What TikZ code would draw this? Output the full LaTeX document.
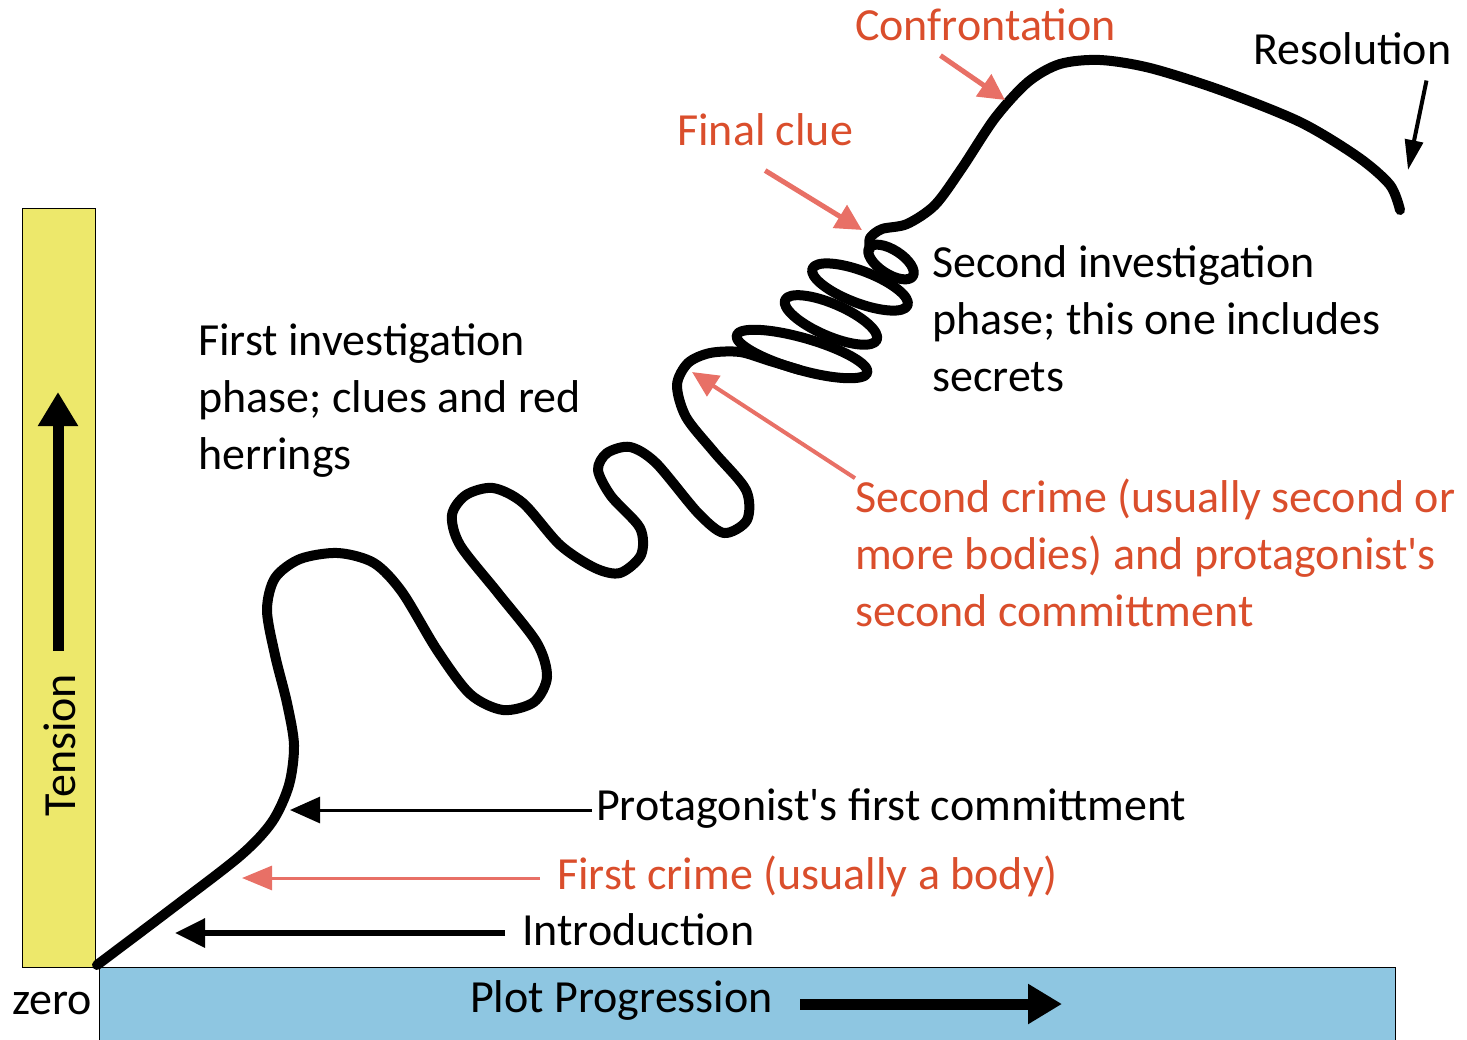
\documentclass[tikz,border=0pt]{standalone}
\usepackage{fontspec}
\setmainfont{Carlito}
\usetikzlibrary{arrows.meta,positioning}
\definecolor{tensionyellow}{RGB}{237,232,107}
\definecolor{plotblue}{RGB}{142,198,225}
\definecolor{cluered}{RGB}{218,78,44}
\definecolor{salmon}{RGB}{232,112,102}
\tikzstyle{plotline} = [line width=10pt, line cap=round, line join=round]
\tikzset{
    txt/.style={
        inner sep=0pt, anchor=base west, align=left,
        font=\fontsize{46}{57}\selectfont
    },
    redtxt/.style={
        txt, text=cluered
    },
    axisarrow/.style={
        line width=11pt,
        -{Triangle[length=34pt,width=38pt]}
    },
    blackarrow/.style={
        line width=6pt,
        -{Triangle[length=30pt,width=28pt]}
    },
    thinarrow/.style={
        line width=3pt,
        -{Triangle[length=30pt,width=26pt]}
    },
    pinkarrow/.style={
        salmon, line width=3pt,
        -{Triangle[length=30pt,width=24pt]}
    },
    pinkbig/.style={
        salmon, line width=5pt,
        -{Triangle[length=26pt,width=26pt]}
    },
    pinkmid/.style={
        salmon, line width=4pt,
        -{Triangle[length=26pt,width=24pt]}
    },
    resolvearrow/.style={
        line width=4pt,
        -{Triangle[length=30pt,width=18pt]}
    }
}

\begin{document}
\begin{tikzpicture}[x=1pt,y=-1pt]
    \useasboundingbox (0,0) rectangle (1467,1039);

    % axes
    \draw[fill=tensionyellow, line width=1pt] (22,208) rectangle (95,967);
    \draw[fill=plotblue, line width=1pt] (99,967) rectangle (1395,1045);
    \node[txt] (zero) at (12,1014) {zero};
    \node[txt, rotate=90, anchor=center] (tension) at (60,745) {Tension};
    \node[txt] (plotprog) at (470,1012) {Plot Progression};
    \coordinate (tensionTip) at (58,392);
    \coordinate (plotTip) at (1062,1004);
    \draw[axisarrow, shorten <=23pt] (tensionTip |- tension.east) -- (tensionTip);
    \draw[axisarrow, shorten <=27pt] (plotTip -| plotprog.east) -- (plotTip);

    % the story line: rise and first investigation
    \draw[plotline] plot[smooth] coordinates {
        (97,965) (170,910) (240,856) (272,822) (289,785) (294,745)
        (287,703) (275,655) (267,610) (275,578) (300,559) (338,553)
        (374,563) (402,592) (437,650) (470,694) (503,710) (534,702)
        (547,677) (537,643) (498,593) (460,545) (452,515) (466,495)
        (493,488) (523,503) (560,545) (595,568) (620,573) (641,555)
        (640,528) (611,496) (598,470) (607,453) (630,447) (656,463)
        (698,513) (724,533) (747,520) (746,490) (714,452) (686,417)
        (677,385) (688,363) (710,353) (740,352) (770,361) (800,370)};

    % second investigation: the coil
    \coordinate (coilA) at (802,354);
    \coordinate (coilB) at (831,320);
    \coordinate (coilC) at (860,287);
    \coordinate (coilD) at (891,262);
    \draw[plotline, rotate around={-16:(coilA)}] (coilA) ellipse [x radius=68pt, y radius=16pt];
    \draw[plotline, rotate around={-23.5:(coilB)}] (coilB) ellipse [x radius=50pt, y radius=16pt];
    \draw[plotline, rotate around={-21:(coilC)}] (coilC) ellipse [x radius=51pt, y radius=16pt];
    \draw[plotline, rotate around={-33:(coilD)}] (coilD) ellipse [x radius=26pt, y radius=12pt];

    % climax and resolution
    \draw[plotline] plot[smooth] coordinates {
        (870,249) (870,238) (882,229) (907,224) (935,205) (962,168)
        (995,118) (1028,82) (1060,64) (1100,60) (1150,68) (1220,90)
        (1300,122) (1358,157) (1390,185) (1400,210)};

    % labels and pointers
    \node[txt] (intro) at (522,945) {Introduction};
    \node[redtxt] (firstcrime) at (557,889) {First crime (usually a body)};
    \node[txt] (firstcommit) at (596,820) {Protagonist\textquotesingle s first committment};
    \node[txt] (firstinv) at (198,469) {First investigation\\phase; clues and red\\herrings};
    \node[txt] (secondinv) at (932,391) {Second investigation\\phase; this one includes\\secrets};
    \node[redtxt] (secondcrime) at (855,626) {Second crime (usually second or\\more bodies) and protagonist\textquotesingle s\\second committment};
    \node[redtxt] (finalclue) at (677,145) {Final clue};
    \node[redtxt] (confront) at (855,40) {Confrontation};
    \node[txt] (resolution) at (1253,64) {Resolution};

    \coordinate (introTip) at (175,933);
    \coordinate (crimeTip) at (242,878);
    \coordinate (commitTip) at (290,810);
    \coordinate (secondcrimeTip) at (692,372);
    \coordinate (clueTip) at (862,230);
    \coordinate (confrontTip) at (1005,100);
    \coordinate (resolveTip) at (1408,170);

    \draw[blackarrow, shorten <=17pt] (introTip -| intro.west) -- (introTip);
    \draw[pinkarrow, shorten <=17pt] (crimeTip -| firstcrime.west) -- (crimeTip);
    \draw[thinarrow, shorten <=4pt] (commitTip -| firstcommit.west) -- (commitTip);
    \draw[pinkmid] (secondcrime.north west) -- (secondcrimeTip);
    \draw[pinkbig] ([yshift=-25pt]finalclue.south) -- (clueTip);
    \draw[pinkbig] ([xshift=-45pt,yshift=-15pt]confront.south) -- (confrontTip);
    \draw[resolvearrow] ([xshift=-25pt,yshift=-16pt]resolution.south east) -- (resolveTip);
\end{tikzpicture}
\end{document}
